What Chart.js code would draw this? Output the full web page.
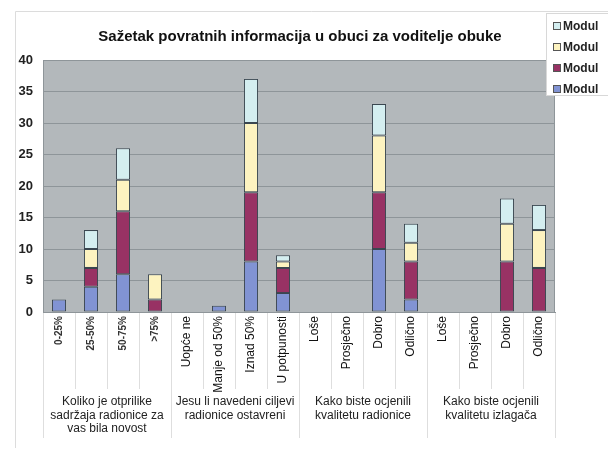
<!DOCTYPE html>
<html>
<head>
<meta charset="utf-8">
<script src="https://cdn.jsdelivr.net/npm/chart.js@4/dist/chart.umd.min.js"></script>
<style>
  body { margin: 0; background: #fff; }
  #wrap { width: 608px; height: 450px; }
</style>
</head>
<body>
<div id="wrap"><canvas id="feedbackChart"></canvas></div>
<script>
// categories on the x-axis (4 per question)
var categories = ["0-25%", "25-50%", "50-75%", ">75%",
    "Uopće ne", "Manje od 50%", "Iznad 50%", "U potpunosti",
    "Loše", "Prosječno", "Dobro", "Odlično",
    "Loše", "Prosječno", "Dobro", "Odlično"];
// question under each group of 4 categories
var groups = [
    ["Koliko je otprilike", "sadržaja radionice za", "vas bila novost"],
    ["Jesu li navedeni ciljevi", "radionice ostavreni"],
    ["Kako biste ocjenili", "kvalitetu radionice"],
    ["Kako biste ocjenili", "kvalitetu izlagača"]
];
var seriesNames = ["Modul", "Modul", "Modul", "Modul"];
// stacked from bottom to top
var modul1 = [2, 4, 6, 0, 0, 1, 8, 3, 0, 0, 10, 2, 0, 0, 0, 0];
var modul2 = [0, 3, 10, 2, 0, 0, 11, 4, 0, 0, 9, 6, 0, 0, 8, 7];
var modul3 = [0, 3, 5, 4, 0, 0, 11, 1, 0, 0, 9, 3, 0, 0, 6, 6];
var modul4 = [0, 3, 5, 0, 0, 0, 7, 1, 0, 0, 5, 3, 0, 0, 4, 4];
var yTicks = [0, 5, 10, 15, 20, 25, 30, 35, 40];

var colors = ["#8193d3", "#983264", "#fdf3c0", "#d4eef0"];
var edge = "#3a4650";
var title = "Sažetak povratnih informacija u obuci za voditelje obuke";

var font = "'Liberation Sans', Arial, sans-serif";

//plot background, separators under the axis, group labels, title, legend
var extras = {
    id: "extras",
    beforeDraw: function (chart) {
        var c = chart.ctx, a = chart.chartArea;
        c.save();
        c.fillStyle = "#fff";
        c.fillRect(0, 0, chart.width, chart.height);
        c.fillStyle = "#b3b8bb";
        c.fillRect(a.left, a.top, a.right - a.left, a.bottom - a.top);
        c.restore();
    },
    afterDraw: function (chart) {
        var c = chart.ctx, a = chart.chartArea, x = chart.scales.x;
        var step = x.getPixelForValue(1) - x.getPixelForValue(0);
        c.save();
        // outer frame (top + left)
        c.strokeStyle = "#dcdcdc";
        c.lineWidth = 1;
        c.beginPath();
        c.moveTo(15.5, 448);
        c.lineTo(15.5, 11.5);
        c.lineTo(chart.width, 11.5);
        c.stroke();

        // plot border
        c.strokeStyle = "#8e9599";
        c.strokeRect(a.left + 0.5, a.top + 0.5, a.right - a.left - 1, a.bottom - a.top);

        // separators between categories
        c.strokeStyle = "#dedede";
        for (var i = 0; i <= categories.length; i++) {
            var px = Math.round(x.getPixelForValue(i) - step / 2) + 0.5;
            var long = i % 4 == 0;
            c.beginPath();
            c.moveTo(px, a.bottom + 1);
            c.lineTo(px, long ? 438 : 389);
            c.stroke();
        }

        // group labels
        c.fillStyle = "#222";
        c.font = "12px " + font;
        c.textAlign = "center";
        c.textBaseline = "middle";
        for (var g = 0; g < groups.length; g++) {
            var cx = (x.getPixelForValue(g * 4) + x.getPixelForValue(g * 4 + 3)) / 2;
            for (var l = 0; l < groups[g].length; l++) {
                c.fillText(groups[g][l], cx, 402 + l * 13.5);
            }
        }

        // title
        c.fillStyle = "#111";
        c.font = "bold 15px " + font;
        c.fillText(title, 300, 37);

        // legend box (reverse order, top = last series)
        c.fillStyle = "#fff";
        c.fillRect(546, 13, 70, 82);
        c.strokeStyle = "#d8d8d8";
        c.strokeRect(546.5, 13.5, 70, 82);
        c.font = "bold 12px " + font;
        c.textAlign = "left";
        var ds = chart.data.datasets;
        for (var k = 0; k < ds.length; k++) {
            var d = ds[ds.length - 1 - k];
            var y = 26 + k * 21;
            c.fillStyle = d.backgroundColor;
            c.fillRect(553.5, y - 3.5, 7, 7);
            c.strokeStyle = "#555";
            c.strokeRect(553.5, y - 3.5, 7, 7);
            c.fillStyle = "#222";
            c.fillText(d.label, 563, y + 1);
        }
        c.restore();
    }
};

var allData = [modul1, modul2, modul3, modul4];
var datasets = [];
for (var s = 0; s < allData.length; s++) {
    datasets.push({
        label: seriesNames[s],
        data: allData[s],
        backgroundColor: colors[s],
        borderColor: edge,
        borderWidth: 1,
        borderSkipped: false,
        categoryPercentage: 1,
        barPercentage: 0.44
    });
}

var ctx = document.getElementById("feedbackChart");
var feedbackChart = new Chart(ctx, {
    type: "bar",
    data: {
        labels: categories,
        datasets: datasets
    },
    options: {
        responsive: true,
        maintainAspectRatio: false,
        animation: false,
        layout: { padding: { top: 60, right: 53, left: 0, bottom: 0 } },
        plugins: {
            legend: { display: false },
            title: { display: false },
            tooltip: { enabled: false }
        },
        scales: {
            x: {
                stacked: true,
                grid: { display: false, drawTicks: false, tickLength: 0 },
                border: { color: "#8e9599" },
                afterFit: function (scale) { scale.height = 138; },
                ticks: {
                    autoSkip: false,
                    minRotation: 90,
                    maxRotation: 90,
                    padding: 4,
                    color: function (c) { return c.index < 4 ? "#333" : "#111"; },
                    font: function (c) {
                        return c.index < 4
                            ? { family: font, size: 10, weight: "bold" }
                            : { family: font, size: 12 };
                    }
                }
            },
            y: {
                stacked: true,
                min: 0,
                max: 40,
                afterFit: function (scale) { scale.width = 43; },
                afterBuildTicks: function (scale) {
                    scale.ticks = yTicks.map(function (v) { return { value: v }; });
                },
                grid: { color: "#8e9599", drawTicks: false },
                border: { display: false },
                ticks: {
                    padding: 10,
                    color: "#222",
                    font: { family: font, size: 13, weight: "bold" }
                }
            }
        }
    },
    plugins: [extras]
});
</script>
</body>
</html>
